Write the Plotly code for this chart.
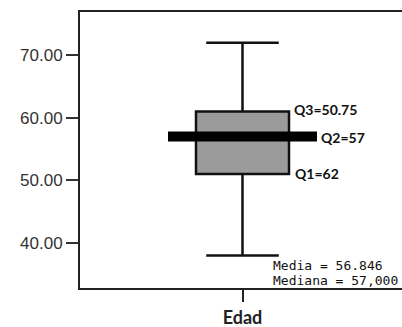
import plotly.graph_objects as go

# Data
category = ["Edad"]
q1 = [51.0]
median = [57.0]
q3 = [61.0]
lower_whisker = [38.0]
upper_whisker = [72.0]
y_ticks = [40, 50, 60, 70]
quart_labels = ["Q3=50.75", "Q2=57", "Q1=62"]
stats_lines = ["Media = 56.846", "Mediana = 57,000"]

W, H = 402, 327
ML, MT, MB, MR = 80, 12, 39, 0
plot_w = W - ML - MR
plot_h = H - MT - MB
center_px = 162.5  # category centre from left of plot area
xa = -0.5
xb = xa + (0 - xa) * plot_w / center_px
unit_per_px = (xb - xa) / plot_w

box_w = 93 * unit_per_px
med_half = 74.5 * unit_per_px

fig = go.Figure()
fig.add_trace(go.Box(
    x=[0], q1=q1, median=median, q3=q3,
    lowerfence=lower_whisker, upperfence=upper_whisker,
    width=box_w, whiskerwidth=0.78,
    fillcolor="#9b9b9b",
    line=dict(color="#111111", width=2.5),
    boxpoints=False, showlegend=False, hoverinfo="skip",
))
fig.add_trace(go.Scatter(
    x=[-med_half, med_half], y=[median[0], median[0]],
    mode="lines", line=dict(color="#000000", width=10),
    showlegend=False, hoverinfo="skip",
))

qfont = dict(family="Lato", size=14, color="#111111", weight="bold")
fig.add_annotation(x=box_w / 2, y=q3[0], text=quart_labels[0], showarrow=False,
                   xanchor="left", yanchor="middle", xshift=3, yshift=2, font=qfont)
fig.add_annotation(x=med_half, y=median[0], text=quart_labels[1], showarrow=False,
                   xanchor="left", yanchor="middle", xshift=2, yshift=-1, font=qfont)
fig.add_annotation(x=box_w / 2, y=q1[0], text=quart_labels[2], showarrow=False,
                   xanchor="left", yanchor="middle", xshift=4, yshift=1, font=qfont)

sfont = dict(family="DejaVu Sans Mono", size=13, color="#111111")
for px_x, px_y, txt in [(271, 265, stats_lines[0]), (271, 280, stats_lines[1])]:
    fig.add_annotation(x=(px_x - ML) / plot_w, y=(H - px_y - MB) / plot_h,
                       xref="paper", yref="paper", text=txt,
                       showarrow=False, xanchor="left", yanchor="middle", font=sfont)

fig.update_layout(
    width=W, height=H,
    margin=dict(l=ML, r=MR, t=MT, b=MB, pad=0),
    plot_bgcolor="white", paper_bgcolor="white",
    xaxis=dict(range=[xa, xb], tickvals=[0], ticktext=category,
               showgrid=False, zeroline=False, showline=True, linecolor="#222222",
               linewidth=2, mirror=True, ticks="outside", ticklen=12, tickwidth=2,
               tickcolor="#222222",
               tickfont=dict(family="Lato", size=18, color="#222222", weight="bold")),
    yaxis=dict(range=[32.8, 76.9], tickvals=y_ticks, tickformat=".2f",
               showgrid=False, zeroline=False, showline=True, linecolor="#222222",
               linewidth=2, ticks="outside", ticklen=12, tickwidth=2,
               tickcolor="#333333",
               tickfont=dict(family="Liberation Sans", size=17, color="#333333")),
)

fig.write_html("out.html", config={"displayModeBar": False},
               post_script="document.body.style.margin='0';document.body.style.overflow='hidden';")
